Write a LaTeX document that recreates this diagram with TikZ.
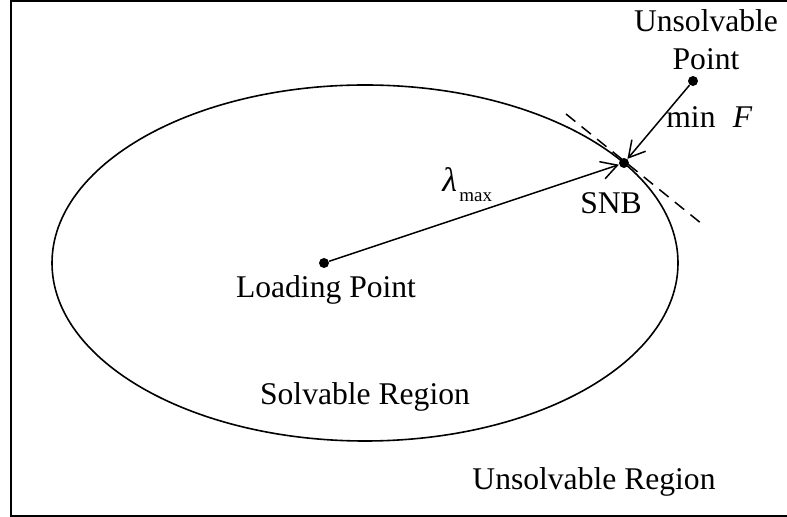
\documentclass[tikz,border=0pt]{standalone}
\usepackage{fontspec}
\setmainfont{Liberation Serif}
\usetikzlibrary{arrows.meta}
\begin{document}
\begin{tikzpicture}[x=0.5pt,y=-0.5pt,
  every node/.style={font=\fontsize{15.8}{18}\selectfont, inner sep=0pt},
  dot/.style={circle, fill=black, minimum size=5pt},
  frame/.style={line width=1pt},
  curve/.style={line width=0.8pt},
  conn/.style={line width=0.75pt, -{Straight Barb[length=8pt,width=9pt,line width=0.75pt]}},
  tangent/.style={line width=0.75pt, dash pattern=on 6pt off 4pt}]
\useasboundingbox (0,0) rectangle (787,517);
% frame (open on the right edge)
\draw[frame] (790,1) -- (11,1) -- (11,516) -- (790,516);
% boundary of the solvable region
\draw[curve] (365,263) ellipse [x radius=313, y radius=178];
% points
\node[dot] (lp)  at (324,263) {};
\node[dot] (snb) at (624,163) {};
\node[dot] (up)  at (693,81) {};
% tangent at the SNB point
\coordinate (t1) at (566,114);
\coordinate (t2) at (702,224);
\draw[tangent] (t1) -- (t2);
% connectors
\draw[conn] (lp) -- (snb);
\draw[conn] (up) -- (snb);
% labels
\node[anchor=base] (lbl-up1) at (706,32) {Unsolvable};
\node[anchor=base] (lbl-up2) at (706,70) {Point};
\node[anchor=base] (lbl-snb) at (611,214) {SNB};
\node[anchor=base] (lbl-lp) at (326,298) {Loading Point};
\node[anchor=base] (lbl-sr) at (365,405) {Solvable Region};
\node[anchor=base] (lbl-ur) at (594,490) {Unsolvable Region};
\node[anchor=base west] (lbl-lam) at (442,192) {\fontsize{17}{18}\selectfont\itshape λ};
\node[anchor=base west] (lbl-max) at (459,202) {\fontsize{9.5}{10}\selectfont max};
\node[anchor=base west] (lbl-min) at (666,128) {min\hspace{0.55em}\itshape F};
\end{tikzpicture}
\end{document}
